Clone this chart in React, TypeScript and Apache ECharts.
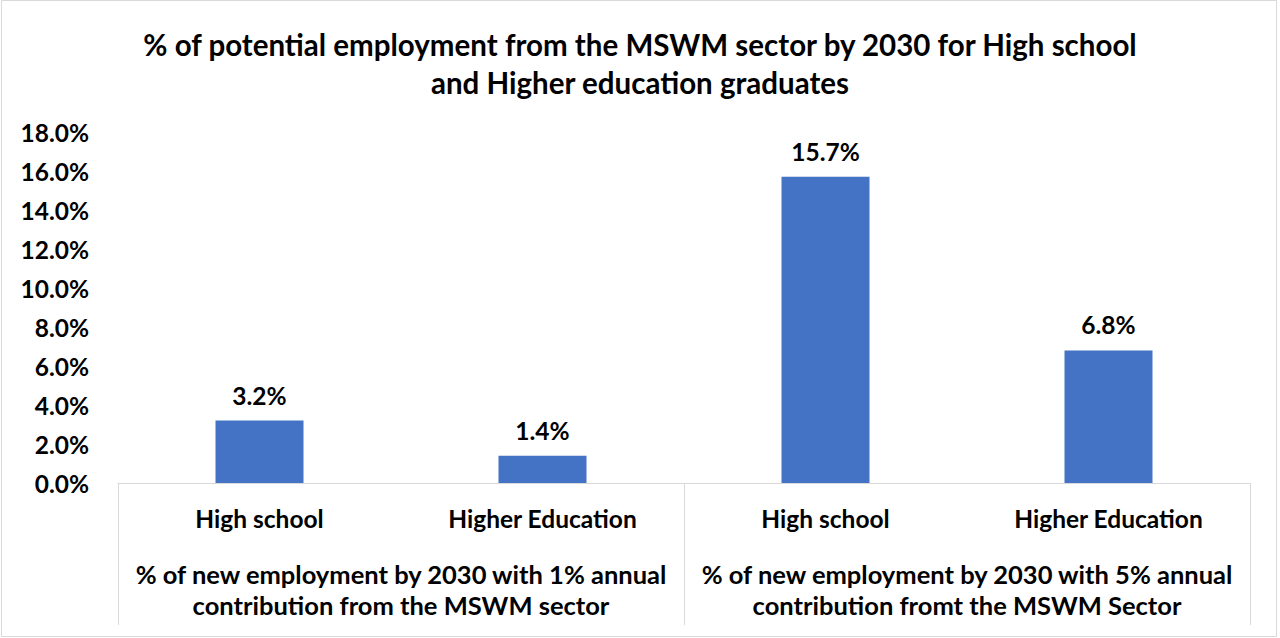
import React, { useEffect, useRef } from "react";
import * as echarts from "echarts";

const categories = ["High school", "Higher Education", "High school", "Higher Education"];
const groups = [
  "% of new employment by 2030 with 1% annual\ncontribution from the MSWM sector",
  "% of new employment by 2030 with 5% annual\ncontribution fromt the MSWM Sector",
];
const values = [3.2, 1.4, 15.7, 6.8];
const titleText = "% of potential employment from the MSWM sector by 2030 for High school\nand Higher education graduates";

const FONT = "Lato, 'Open Sans', sans-serif";

export default function App() {
  const ref = useRef<HTMLDivElement>(null);
  useEffect(() => {
    if (!ref.current) return;
    const chart = echarts.init(ref.current, null, { renderer: "svg" });
    chart.setOption({
      animation: false,
      backgroundColor: "#ffffff",
      title: {
        text: titleText,
        left: "center",
        top: 20,
        textStyle: { fontFamily: FONT, fontWeight: "bold", fontSize: 29.5, color: "#000", lineHeight: 38 },
      },
      grid: { left: 118, right: 30, top: 132, bottom: 155 },
      xAxis: [
        {
          type: "category",
          data: categories,
          axisLine: { show: true, lineStyle: { color: "#d9d9d9", width: 1 } },
          axisTick: { show: false },
          axisLabel: { color: "#000", fontFamily: FONT, fontWeight: "bold", fontSize: 24.5, margin: 23, interval: 0 },
        },
        {
          type: "category",
          position: "bottom",
          data: groups,
          axisLine: { show: false },
          axisTick: { show: true, length: 142, lineStyle: { color: "#d9d9d9", width: 1 } },
          axisLabel: {
            color: "#000",
            fontFamily: FONT,
            fontWeight: "bold",
            fontSize: 25.5,
            lineHeight: 31,
            margin: 75,
            interval: 0,
            hideOverlap: false,
            verticalAlign: "top",
          },
        },
      ],
      yAxis: {
        type: "value",
        min: 0,
        max: 18,
        interval: 2,
        axisLine: { show: false },
        axisTick: { show: false },
        splitLine: { show: false },
        axisLabel: {
          color: "#000",
          fontFamily: FONT,
          fontWeight: "bold",
          fontSize: 24.5,
          margin: 29,
          formatter: (v: number) => v.toFixed(1) + "%",
        },
      },
      series: [
        {
          type: "bar",
          xAxisIndex: 0,
          data: values,
          barWidth: 88,
          itemStyle: { color: "#4472C4" },
          label: {
            show: true,
            position: "top",
            distance: 13,
            color: "#000",
            fontFamily: FONT,
            fontWeight: "bold",
            fontSize: 24.5,
            formatter: (p: any) => Number(p.value).toFixed(1) + "%",
          },
        },
      ],
      graphic: [
        {
          type: "rect",
          shape: { x: 1.5, y: 0.5, width: 1275, height: 636 },
          style: { fill: "none", stroke: "#d9d9d9", lineWidth: 1 },
          silent: true,
        },
      ],
    });
    return () => chart.dispose();
  }, []);
  return <div ref={ref} style={{ position: "absolute", left: 0, top: 0, width: 1280, height: 638 }} />;
}
